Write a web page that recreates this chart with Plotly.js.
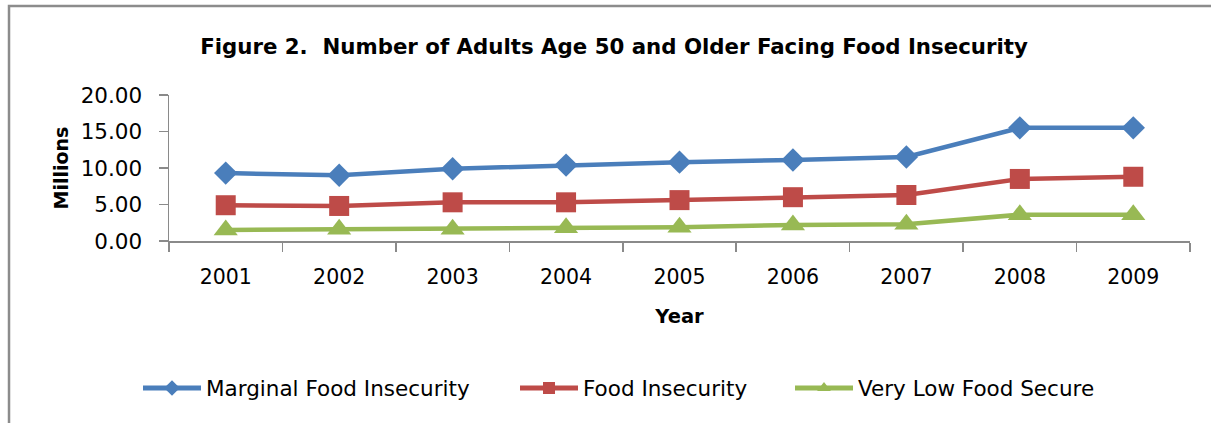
<!DOCTYPE html>
<html>
<head>
<meta charset="utf-8">
<script src="https://cdn.plot.ly/plotly-3.0.1.min.js"></script>
<style>html,body{margin:0;padding:0;background:#fff;} #chart{width:1211px;height:423px;}</style>
</head>
<body>
<div id="chart"></div>
<script>
const years = ['2001','2002','2003','2004','2005','2006','2007','2008','2009'];
const marginal = [9.3, 9.0, 9.9, 10.4, 10.8, 11.1, 11.5, 15.5, 15.5];
const foodInsecurity = [4.9, 4.8, 5.3, 5.3, 5.6, 6.0, 6.3, 8.5, 8.8];
const veryLow = [1.5, 1.6, 1.6, 1.8, 1.9, 2.2, 2.3, 3.6, 3.6];
const seriesNames = ['Marginal Food Insecurity', 'Food Insecurity', 'Very Low Food Secure'];
const yTicks = [0, 5, 10, 15, 20];

const FONT = 'DejaVu Sans, sans-serif';
const axisGray = '#8a8a8a';

const traces = [
  {x: years, y: marginal, name: seriesNames[0], mode: 'lines+markers', legend: 'legend',
   line: {color: '#4A7EBB', width: 4.5}, marker: {symbol: 'diamond', size: 18, color: '#4A7EBB'}},
  {x: years, y: foodInsecurity, name: seriesNames[1], mode: 'lines+markers', legend: 'legend2',
   line: {color: '#BE4B48', width: 4.5}, marker: {symbol: 'square', size: 20, color: '#BE4B48'}},
  {x: years, y: veryLow, name: seriesNames[2], mode: 'lines+markers', legend: 'legend3',
   line: {color: '#98B954', width: 4.5}, marker: {symbol: 'triangle-up', size: 21, color: '#98B954'}}
];

function legendAt(px) {
  return {orientation: 'h', x: (px - 169) / 1021, xanchor: 'left', y: -1.007, yanchor: 'middle',
          font: {family: FONT, size: 21.5}, itemwidth: 58, itemsizing: 'constant',
          bgcolor: 'rgba(0,0,0,0)'};
}

const layout = {
  width: 1211, height: 423,
  margin: {l: 169, r: 21, t: 95, b: 182},
  paper_bgcolor: '#fff', plot_bgcolor: '#fff',
  font: {family: FONT, size: 20, color: '#000'},
  title: {text: 'Figure 2.\u00a0 Number of Adults Age 50 and Older Facing Food Insecurity',
          font: {family: FONT, size: 21.3, weight: 'bold', color: '#000'},
          x: 0.507, xanchor: 'center', y: 0.891, yanchor: 'middle'},
  xaxis: {type: 'category', range: [-0.5, 8.5], showgrid: false, zeroline: false,
          showline: true, linecolor: axisGray, linewidth: 1.5,
          ticks: 'outside', tickson: 'boundaries', ticklen: 9, tickcolor: axisGray, tickwidth: 1.5,
          ticklabelstandoff: 17,
          tickfont: {family: FONT, size: 20.5}, fixedrange: true,
          title: {text: 'Year', font: {family: FONT, size: 19.5, weight: 'bold'}, standoff: 21}},
  yaxis: {range: [0, 20], tickvals: yTicks, tickformat: '.2f', showgrid: false, zeroline: false,
          showline: true, linecolor: axisGray, linewidth: 1.5,
          ticks: 'outside', ticklen: 9, tickcolor: axisGray, tickwidth: 1.5,
          ticklabelstandoff: 12,
          tickfont: {family: FONT, size: 21.5}, fixedrange: true,
          title: {text: 'Millions', font: {family: FONT, size: 19, weight: 'bold'}, standoff: 7}},
  legend: legendAt(138),
  legend2: legendAt(515),
  legend3: legendAt(790),
  showlegend: true,
  shapes: [{type: 'rect', xref: 'paper', yref: 'paper',
            x0: -0.1567, x1: 1.2, y0: -2, y1: 1.6096,
            line: {color: '#8c8c8c', width: 2.5}, fillcolor: 'rgba(0,0,0,0)', layer: 'below'}]
};

Plotly.newPlot('chart', traces, layout, {displayModeBar: false, staticPlot: true});
</script>
</body>
</html>
